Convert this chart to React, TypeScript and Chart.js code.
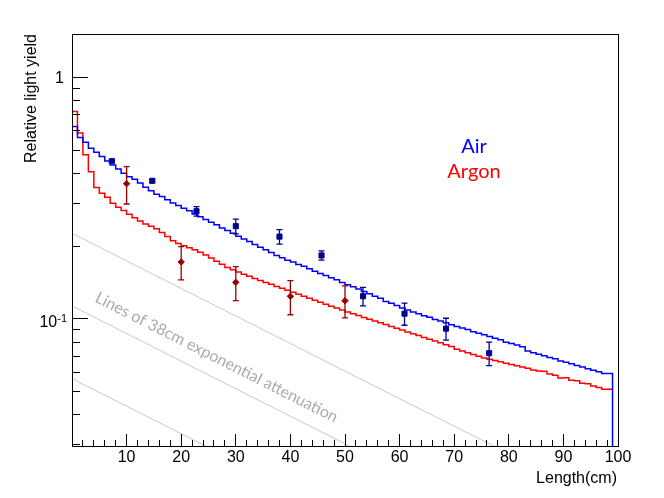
import { useEffect, useRef } from 'react';
import { Chart, registerables } from 'chart.js';

Chart.register(...registerables);

// Simulated relative light yield per 1 cm bin (bins 0..98 cm)
const airYield = [
  0.803, 0.626, 0.564, 0.539, 0.509, 0.490, 0.470, 0.451, 0.434, 0.418,
  0.401, 0.388, 0.379, 0.365, 0.351, 0.339, 0.328, 0.321, 0.311, 0.302,
  0.295, 0.287, 0.280, 0.272, 0.265, 0.258, 0.251, 0.245, 0.238, 0.232,
  0.226, 0.220, 0.214, 0.209, 0.203, 0.198, 0.193, 0.188, 0.183, 0.179,
  0.175, 0.172, 0.168, 0.165, 0.1612, 0.1572, 0.154, 0.151, 0.148, 0.145,
  0.1415, 0.1385, 0.1357, 0.1328, 0.1298, 0.1269, 0.1240, 0.1215, 0.1180, 0.1159,
  0.1134, 0.1108, 0.1087, 0.1066, 0.1048, 0.1030, 0.1015, 0.0992, 0.0978, 0.0962,
  0.0945, 0.0930, 0.0915, 0.0903, 0.0884, 0.0872, 0.0859, 0.0845, 0.0830, 0.0818,
  0.0800, 0.0790, 0.0778, 0.0766, 0.0735, 0.0723, 0.0712, 0.0702, 0.0691, 0.0683,
  0.0669, 0.0661, 0.0651, 0.0641, 0.0631, 0.0621, 0.0612, 0.0603, 0.0593,
];
const argonYield = [
  0.834, 0.723, 0.588, 0.478, 0.407, 0.350, 0.331, 0.319, 0.301, 0.290,
  0.281, 0.271, 0.262, 0.254, 0.247, 0.242, 0.236, 0.228, 0.219, 0.2105,
  0.205, 0.2007, 0.1969, 0.1933, 0.1887, 0.1836, 0.1784, 0.1732, 0.1681, 0.1632,
  0.1595, 0.1562, 0.1530, 0.1499, 0.1468, 0.1442, 0.1415, 0.1389, 0.1362, 0.1337,
  0.1312, 0.1288, 0.1264, 0.1240, 0.1217, 0.1194, 0.1171, 0.1149, 0.1127, 0.1107,
  0.1087, 0.1068, 0.1050, 0.1032, 0.1013, 0.0996, 0.0979, 0.0962, 0.0946, 0.0929,
  0.0913, 0.0898, 0.0882, 0.0867, 0.0852, 0.0837, 0.0823, 0.0809, 0.0795, 0.0781,
  0.0768, 0.0747, 0.0735, 0.0723, 0.0711, 0.0700, 0.0688, 0.0679, 0.0671, 0.0663,
  0.0654, 0.0646, 0.0639, 0.0631, 0.0623, 0.0614, 0.0608, 0.0606, 0.0590, 0.0583,
  0.0568, 0.0570, 0.0556, 0.0553, 0.0540, 0.0538, 0.0527, 0.0519, 0.0510,
];
const binWidth = 1; // cm

// Measured points
const airLength = [7.3, 14.7, 22.8, 30.0, 38.0, 45.7, 53.3, 60.9, 68.5, 76.4];
const airMeasured = [0.450, 0.373, 0.279, 0.242, 0.219, 0.183, 0.124, 0.105, 0.091, 0.072];
const airError = [0.005, 0.005, 0.0125, 0.017, 0.015, 0.008, 0.011, 0.011, 0.0095, 0.008];

const argonLength = [10, 20, 30, 40, 50];
const argonMeasured = [0.363, 0.172, 0.1416, 0.1239, 0.1188];
const argonError = [0.064, 0.027, 0.0228, 0.020, 0.018];

// Reference lines of 38 cm exponential attenuation (values at 0 cm and 100 cm)
const attenuationStart = [0.226, 0.113, 0.0565];
const attenuationEnd = [0.0163, 0.00813, 0.00407];

// Axis ticks
const xMajorTicks = [0, 10, 20, 30, 40, 50, 60, 70, 80, 90, 100];
const xMinorTicks = [2, 4, 6, 8, 12, 14, 16, 18, 22, 24, 26, 28, 32, 34, 36, 38, 42, 44, 46, 48, 52, 54, 56, 58, 62, 64, 66, 68, 72, 74, 76, 78, 82, 84, 86, 88, 92, 94, 96, 98];
const xTickLabels = ['', '10', '20', '30', '40', '50', '60', '70', '80', '90', '100'];
const yMajorTicks = [0.1, 1];
const yMinorTicks = [0.03, 0.04, 0.05, 0.06, 0.07, 0.08, 0.09, 0.2, 0.3, 0.4, 0.5, 0.6, 0.7, 0.8, 0.9];

const histPoints = (vals: number[], dropToZero: boolean) => {
  const pts = vals.map((v, i) => ({ x: i * binWidth, y: v }));
  pts.push({ x: vals.length * binWidth, y: vals[vals.length - 1] });
  if (dropToZero) pts.push({ x: vals.length * binWidth, y: 0.001 });
  return pts;
};

const rootPlugin = {
  id: 'rootStyle',
  beforeDatasetDraw(chart: any, args: any) {
    const ds = chart.data.datasets[args.index] as any;
    if (!ds.errors) return;
    const ctx = chart.ctx as CanvasRenderingContext2D;
    const xs = chart.scales.x;
    const ys = chart.scales.y;
    ctx.save();
    ctx.strokeStyle = ds.borderColor;
    ctx.lineWidth = 1.3;
    ds.data.forEach((p: any, i: number) => {
      const e = ds.errors[i];
      const px = xs.getPixelForValue(p.x);
      const top = ys.getPixelForValue(p.y + e);
      const bot = ys.getPixelForValue(p.y - e);
      ctx.beginPath();
      ctx.moveTo(px, top);
      ctx.lineTo(px, bot);
      ctx.moveTo(px - 3, top);
      ctx.lineTo(px + 3, top);
      ctx.moveTo(px - 3, bot);
      ctx.lineTo(px + 3, bot);
      ctx.stroke();
    });
    ctx.restore();
  },
  afterDatasetsDraw(chart: any) {
    const ctx = chart.ctx as CanvasRenderingContext2D;
    const { left, right, top, bottom } = chart.chartArea;
    const xs = chart.scales.x;
    const ys = chart.scales.y;
    const snap = (v: number) => Math.round(v - 0.5) + 0.5;
    ctx.save();
    // frame
    ctx.strokeStyle = '#000';
    ctx.lineWidth = 1;
    ctx.strokeRect(snap(left), snap(top), snap(right) - snap(left), snap(bottom) - snap(top));
    // x ticks
    ctx.beginPath();
    xMajorTicks.forEach((v) => {
      const px = snap(xs.getPixelForValue(v));
      ctx.moveTo(px, bottom);
      ctx.lineTo(px, bottom - 12);
    });
    xMinorTicks.forEach((v) => {
      const px = snap(xs.getPixelForValue(v));
      ctx.moveTo(px, bottom);
      ctx.lineTo(px, bottom - 6);
    });
    // y ticks
    yMajorTicks.forEach((v) => {
      const py = snap(ys.getPixelForValue(v));
      ctx.moveTo(left, py);
      ctx.lineTo(left + 16, py);
    });
    yMinorTicks.forEach((v) => {
      const py = snap(ys.getPixelForValue(v));
      ctx.moveTo(left, py);
      ctx.lineTo(left + 8, py);
    });
    ctx.stroke();

    // x labels
    ctx.fillStyle = '#000';
    ctx.font = '16px "Liberation Sans", Arial, sans-serif';
    ctx.textAlign = 'center';
    ctx.textBaseline = 'alphabetic';
    xMajorTicks.forEach((v, i) => {
      if (!xTickLabels[i]) return;
      ctx.fillText(xTickLabels[i], xs.getPixelForValue(v), 462);
    });
    // y labels
    ctx.textAlign = 'right';
    const y1 = ys.getPixelForValue(1);
    ctx.fillText('1', 64, y1 + 5.8);
    const y01 = ys.getPixelForValue(0.1);
    ctx.font = '11px "Liberation Sans", Arial, sans-serif';
    ctx.textAlign = 'left';
    const supW = ctx.measureText('-1').width;
    ctx.fillText('-1', 67 - supW, y01 + 3.3);
    ctx.font = '16px "Liberation Sans", Arial, sans-serif';
    ctx.textAlign = 'right';
    ctx.fillText('10', 67 - supW, y01 + 8.3);

    // axis titles
    ctx.textAlign = 'right';
    ctx.fillText('Length(cm)', 617, 482.5);
    ctx.save();
    ctx.translate(36, 34);
    ctx.rotate(-Math.PI / 2);
    ctx.textAlign = 'right';
    ctx.fillText('Relative light yield', 0, 0);
    ctx.restore();

    // legend texts
    ctx.font = '20px Lato, "Open Sans", sans-serif';
    ctx.textAlign = 'center';
    ctx.fillStyle = '#0000ff';
    ctx.fillText('Air', 474, 152.7);
    ctx.fillStyle = '#ff0000';
    ctx.fillText('Argon', 474, 177.5);

    // annotation
    ctx.save();
    ctx.translate(216.5, 357.5);
    ctx.rotate(Math.atan(0.505));
    ctx.font = '16px Lato, "Open Sans", sans-serif';
    ctx.fillStyle = '#aaaaaa';
    ctx.textAlign = 'center';
    ctx.textBaseline = 'middle';
    ctx.fillText('Lines of 38cm exponential attenuation', 0, 0);
    ctx.restore();

    ctx.restore();
  },
};

export default function App() {
  const ref = useRef<HTMLCanvasElement>(null);
  useEffect(() => {
    const canvas = ref.current;
    if (!canvas) return;
    const lineDatasets = attenuationStart.map((s, i) => ({
      type: 'line' as const,
      data: [{ x: 0, y: s }, { x: 100, y: attenuationEnd[i] }],
      borderColor: '#c8c8c8',
      borderWidth: 1,
      pointRadius: 0,
      clip: 0,
      order: 5,
    }));
    const chart = new Chart(canvas, {
      type: 'line',
      data: {
        datasets: [
          ...lineDatasets,
          {
            data: histPoints(argonYield, false),
            borderColor: '#ff0000',
            borderWidth: 1.5,
            pointRadius: 0,
            stepped: 'after',
            clip: 0,
            order: 3,
          },
          {
            data: histPoints(airYield, true),
            borderColor: '#0000ff',
            borderWidth: 1.5,
            pointRadius: 0,
            stepped: 'after',
            clip: 0,
            order: 2,
          },
          {
            data: argonLength.map((x, i) => ({ x, y: argonMeasured[i] })),
            errors: argonError,
            showLine: false,
            borderColor: '#990000',
            backgroundColor: '#990000',
            pointStyle: 'rectRot',
            pointRadius: 3.2,
            pointBorderWidth: 1,
            order: 1,
          } as any,
          {
            data: airLength.map((x, i) => ({ x, y: airMeasured[i] })),
            errors: airError,
            showLine: false,
            borderColor: '#000090',
            backgroundColor: '#000090',
            pointStyle: 'rect',
            pointRadius: 3.6,
            pointBorderWidth: 1,
            order: 0,
          } as any,
        ],
      },
      options: {
        responsive: false,
        animation: false,
        devicePixelRatio: 1,
        layout: { padding: { left: 72, right: 46, top: 34, bottom: 52 } },
        plugins: { legend: { display: false }, tooltip: { enabled: false } },
        elements: { line: { tension: 0 } },
        scales: {
          x: { type: 'linear', min: 0, max: 100, display: false },
          y: { type: 'logarithmic', min: 0.0297, max: 1.514, display: false },
        },
      },
      plugins: [rootPlugin],
    });
    return () => chart.destroy();
  }, []);
  return (
    <div style={{ position: 'absolute', left: 0, top: 0, width: 664, height: 498, background: '#fff' }}>
      <canvas ref={ref} width={664} height={498} style={{ display: 'block', width: 664, height: 498 }} />
    </div>
  );
}
